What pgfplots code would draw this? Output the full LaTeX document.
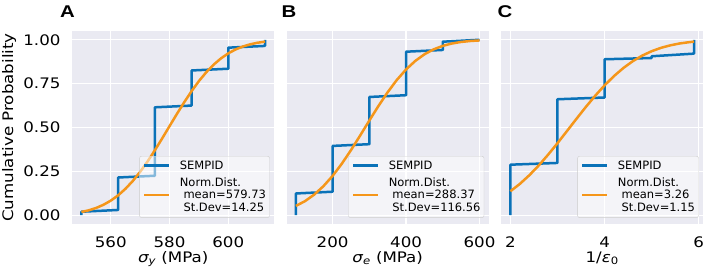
\documentclass[border=0pt]{standalone}
\usepackage{fontspec}
\setmainfont{DejaVu Sans}
\newfontfamily\widefont[FakeStretch=1.15]{DejaVu Sans}
\newfontfamily\letterfont[FakeStretch=1.2]{Liberation Sans}
\usepackage{pgfplots}
\pgfplotsset{compat=1.18}
\definecolor{bgc}{HTML}{EAEAF2}
\definecolor{cblue}{HTML}{0A72B8}
\definecolor{corange}{HTML}{F5961A}
\newcommand{\lf}{\fontsize{11.5}{12.8}\selectfont}
\newcommand{\tf}{\widefont\fontsize{14.5}{17}\selectfont}
\pgfplotsset{
  myaxis/.style={
    scale only axis, width=202pt, height=193pt,
    ymin=-0.05, ymax=1.05, ytick={0,0.25,0.5,0.75,1},
    axis background/.style={fill=bgc},
    axis line style={draw=none},
    major tick length=0pt,
    grid=major, major grid style={white, line width=1.3pt},
    tick label style={font=\tf},
    /pgf/number format/assume math mode=true,
    /pgf/number format/1000 sep={},
    yticklabel style={/pgf/number format/fixed, /pgf/number format/fixed zerofill, /pgf/number format/precision=2},
    xticklabel style={anchor=base, yshift=-23.3pt},
    yticklabel style={anchor=east, inner sep=0pt, xshift=-11.5pt},
    every axis x label/.style={at={(axis description cs:0.5,-0.197)}, anchor=base, font=\tf},
    every axis y label/.style={at={(axis description cs:-0.293,0.5)}, rotate=90, anchor=base, font=\tf},
    legend cell align=left,
    legend style={font=\lf, draw=gray!40, fill=white, fill opacity=0.5, draw opacity=1, text opacity=1,
      rounded corners=2pt, at={(1,0)}, anchor=south east, xshift=-4.5pt, yshift=6.2pt,
      inner xsep=3.5pt, inner ysep=4.5pt, row sep=6.5pt, nodes={inner sep=0pt}, cells={align=left},
      /tikz/every odd column/.append style={column sep=9.3pt}},
    legend image code/.code={\draw[##1] (0pt,0pt) -- (25pt,0pt);},
    blueline/.style={cblue, line width=2.5pt, line join=round},
    orangeline/.style={corange, line width=2.5pt, line join=round},
  }
}
\begin{document}
\begin{tikzpicture}[x=1pt,y=1pt]
\useasboundingbox (0,0) rectangle (706,276);
% Panel A
\begin{axis}[myaxis, at={(72.2pt,52pt)}, anchor=south west,
  xmin=546.875, xmax=615.625, xtick={560,580,600},
  xlabel={{\itshape σ}\textsubscript{\itshape y} (MPa)},
  ylabel={Cumulative Probability}]
\addplot[blueline] coordinates {(550,0.0)(550,0.02)(562.5,0.03)(562.5,0.215)(575,0.225)(575,0.615)(587.5,0.625)(587.5,0.825)(600,0.835)(600,0.955)(612.5,0.965)(612.5,1.0)};
\addlegendentry{SEMPID}
\addplot[orangeline] coordinates {(550,0.0185)(552.5,0.0280)(555,0.0413)(557.5,0.0594)(560,0.0831)(562.5,0.1133)(565,0.1506)(567.5,0.1954)(570,0.2474)(572.5,0.3060)(575,0.3700)(577.5,0.4378)(580,0.5076)(582.5,0.5771)(585,0.6442)(587.5,0.7072)(590,0.7645)(592.5,0.8149)(595,0.8580)(597.5,0.8938)(600,0.9226)(602.5,0.9450)(605,0.9619)(607.5,0.9743)(610,0.9832)(612.5,0.9893)};
\addlegendentry{Norm.Dist.\\\ mean=579.73\\\ St.Dev=14.25}
\end{axis}
% Panel B
\begin{axis}[myaxis, at={(286.7pt,52pt)}, anchor=south west,
  xmin=75, xmax=625, xtick={200,400,600}, yticklabels={},
  xlabel={{\itshape σ}\textsubscript{\itshape e} (MPa)}]
\addplot[blueline] coordinates {(100,0.0)(100,0.124)(200,0.134)(200,0.395)(300,0.405)(300,0.674)(400,0.684)(400,0.932)(500,0.942)(500,0.989)(600,1.0)};
\addlegendentry{SEMPID}
\addplot[orangeline] coordinates {(100,0.0531)(125,0.0805)(150,0.1177)(175,0.1655)(200,0.2242)(225,0.2934)(250,0.3710)(275,0.4543)(300,0.5397)(325,0.6233)(350,0.7015)(375,0.7713)(400,0.8309)(425,0.8793)(450,0.9172)(475,0.9453)(500,0.9653)(525,0.9788)(550,0.9876)(575,0.9930)(600,0.9962)};
\addlegendentry{Norm.Dist.\\\ mean=288.37\\\ St.Dev=116.56}
\end{axis}
% Panel C
\begin{axis}[myaxis, at={(501.2pt,52pt)}, anchor=south west,
  xmin=1.805, xmax=6.095, xtick={2,4,6}, yticklabels={},
  xlabel={1/{\itshape ε}\textsubscript{0}}]
\addplot[blueline] coordinates {(2,0.0)(2,0.288)(3,0.298)(3,0.661)(4,0.671)(4,0.889)(5,0.896)(5,0.906)(5.9,0.921)(5.9,1.0)};
\addlegendentry{SEMPID}
\addplot[orangeline] coordinates {(2.0,0.1366)(2.2,0.1784)(2.4,0.2273)(2.6,0.2830)(2.8,0.3446)(3.0,0.4106)(3.2,0.4792)(3.4,0.5484)(3.6,0.6163)(3.8,0.6807)(4.0,0.7400)(4.2,0.7931)(4.4,0.8392)(4.6,0.8780)(4.8,0.9097)(5.0,0.9348)(5.2,0.9542)(5.4,0.9686)(5.6,0.9791)(5.8,0.9864)(5.9,0.9892)};
\addlegendentry{Norm.Dist.\\\ mean=3.26\\\ St.Dev=1.15}
\end{axis}
\node[anchor=base] at (67.5,258.7) {\fontsize{17}{20}\selectfont\letterfont\bfseries A};
\node[anchor=base] at (289,258.7) {\fontsize{17}{20}\selectfont\letterfont\bfseries B};
\node[anchor=base] at (505,258.7) {\fontsize{17}{20}\selectfont\letterfont\bfseries C};
\end{tikzpicture}
\end{document}
